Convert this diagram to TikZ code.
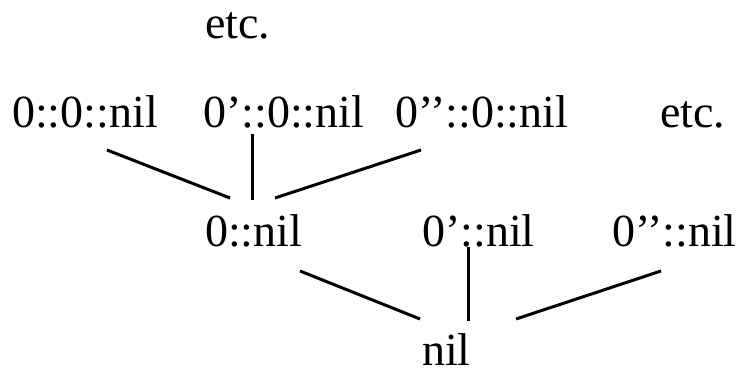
\documentclass[tikz,border=0pt]{standalone}
\usepackage{fontspec}
\setmainfont{Liberation Serif}
\begin{document}
\begin{tikzpicture}[x=1pt,y=1pt,
  lbl/.style={anchor=base west,inner sep=0pt,font=\fontsize{46}{50}\selectfont},
  edge/.style={line width=3pt}]
\useasboundingbox (0,0) rectangle (747,369);
% labels
\node[lbl] (etcA) at (205,330) {etc.};
\node[lbl] (a1) at (12,241) {0::0::nil};
\node[lbl] (a2) at (203,241) {0’::0::nil};
\node[lbl] (a3) at (395,241) {0’’::0::nil};
\node[lbl] (etcB) at (660,241) {etc.};
\node[lbl] (b1) at (205,122) {0::nil};
\node[lbl] (b2) at (422,122) {0’::nil};
\node[lbl] (b3) at (612,122) {0’’::nil};
\node[lbl] (c) at (422,3) {nil};
% connector ends
\coordinate (a1e) at (107,219);
\coordinate (a2e) at (252.5,235);
\coordinate (a3e) at (421,219);
\coordinate (b1l) at (230,171);
\coordinate (b1m) at (252.5,169);
\coordinate (b1r) at (275,171);
\coordinate (b1e) at (300,98);
\coordinate (b2e) at (468.5,122);
\coordinate (b3e) at (661,98);
\coordinate (cl) at (420,50);
\coordinate (cm) at (468.5,48);
\coordinate (cr) at (516,50);
% connectors
\draw[edge] (a1e) -- (b1l);
\draw[edge] (a2e) -- (b1m);
\draw[edge] (a3e) -- (b1r);
\draw[edge] (b1e) -- (cl);
\draw[edge] (b2e) -- (cm);
\draw[edge] (b3e) -- (cr);
\end{tikzpicture}
\end{document}
